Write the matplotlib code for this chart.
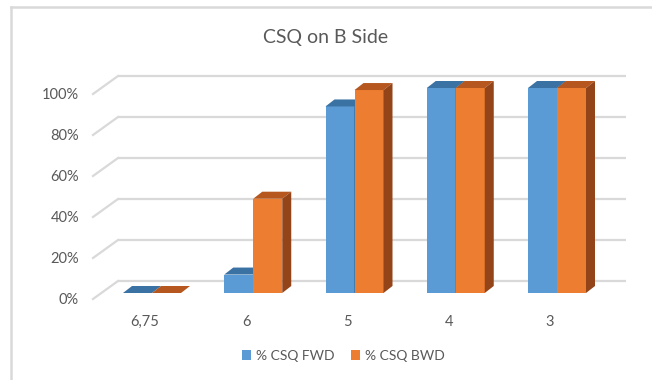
import matplotlib
matplotlib.use("Agg")
import matplotlib.pyplot as plt
from matplotlib.lines import Line2D
from matplotlib.patches import Patch

# Data
categories = ["6,75", "6", "5", "4", "3"]
fwd = [0.00, 0.09, 0.91, 1.00, 1.00]
bwd = [0.00, 0.46, 0.99, 1.00, 1.00]
tick_values = [0.0, 0.2, 0.4, 0.6, 0.8, 1.0]
tick_labels = ["0%", "20%", "40%", "60%", "80%", "100%"]
series_names = ["% CSQ FWD", "% CSQ BWD"]

# Colours
BLUE, BLUE_TOP, BLUE_SIDE = "#5B9BD5", "#3A72A3", "#2F5F8A"
ORANGE, ORANGE_TOP, ORANGE_SIDE = "#ED7D31", "#B5571F", "#944419"
GRID = "#D9D9D9"
TEXT = "#595959"
FONT = ["Lato", "DejaVu Sans"]

W, H = 652, 380
fig = plt.figure(figsize=(W / 100, H / 100), dpi=100)
ax = fig.add_axes([0, 0, 1, 1])
ax.set_axis_off()

# Scale: one category step = 101.25 px, 100% = 205 px; category 0 at x=152 px,
# 0% at y=293 px (from top)
PX_X = 1 / 101.25
PX_Y = 1 / 205.0
ax.set_xlim(-152 * PX_X, (W - 152) * PX_X)
ax.set_ylim(-(H - 293) * PX_Y, 293 * PX_Y)

bar_w = 29 * PX_X
dep_x, dep_y = 9 * PX_X, 7 * PX_Y          # bar depth
wall_dy = 12 * PX_Y                         # bar plane -> back wall
front_dy = -6 * PX_Y                        # bar plane -> floor front edge
wall_left = -34 * PX_X
wall_right = 474 * PX_X
floor_left = -59 * PX_X

# Back wall gridlines and floor diagonals
for v in tick_values:
    yb = v + wall_dy
    ax.plot([wall_left, wall_right], [yb, yb], color=GRID, lw=1.6,
            zorder=1, solid_capstyle="butt")
    ax.plot([floor_left, wall_left], [v + front_dy, yb],
            color=GRID, lw=1.6, zorder=1)
for v, lab in zip(tick_values, tick_labels):
    ax.text(-73 * PX_X, v + front_dy - 1 * PX_Y, lab, ha="right", va="center",
            fontsize=10.5, color=TEXT, family=FONT)


def draw_bar(x0, h, front, top, side, z):
    x1 = x0 + bar_w
    ax.bar(x0, h, width=bar_w, align="edge", color=front, edgecolor="none",
           linewidth=0, zorder=z)
    ax.fill([x0, x1, x1 + dep_x, x0 + dep_x], [h, h, h + dep_y, h + dep_y],
            color=top, lw=0, zorder=z)
    ax.fill([x1, x1 + dep_x, x1 + dep_x, x1], [0, dep_y, h + dep_y, h],
            color=side, lw=0, zorder=z)


for i, (f, b) in enumerate(zip(fwd, bwd)):
    draw_bar(i - bar_w, f, BLUE, BLUE_TOP, BLUE_SIDE, 2 + 2 * i)
    draw_bar(i, b, ORANGE, ORANGE_TOP, ORANGE_SIDE, 3 + 2 * i)
    ax.text(i - 7 * PX_X, -29 * PX_Y, categories[i], ha="center", va="center",
            fontsize=10.5, color=TEXT, family=FONT)

# Title
fig.text(0.5, 1 - 38 / H, "CSQ on B Side", ha="center", va="center",
         fontsize=14, color=TEXT, family=FONT)

# Legend
handles = [Patch(facecolor=BLUE, edgecolor="none"),
           Patch(facecolor=ORANGE, edgecolor="none")]
leg = fig.legend(handles, series_names, loc="center",
                 bbox_to_anchor=(343 / W, 1 - 356 / H), ncol=2, frameon=False,
                 handlelength=0.65, handleheight=0.65, handletextpad=0.35,
                 columnspacing=1.2, prop={"family": FONT, "size": 10})
for t in leg.get_texts():
    t.set_color(TEXT)

# Chart border (top and left edges)
fig.add_artist(Line2D([11 / W, 1], [1 - 7 / H, 1 - 7 / H], transform=fig.transFigure,
                      color=GRID, lw=1.8))
fig.add_artist(Line2D([11 / W, 11 / W], [0, 1 - 7 / H], transform=fig.transFigure,
                      color=GRID, lw=1.8))

fig.savefig("out.png", dpi=100, facecolor="white")
